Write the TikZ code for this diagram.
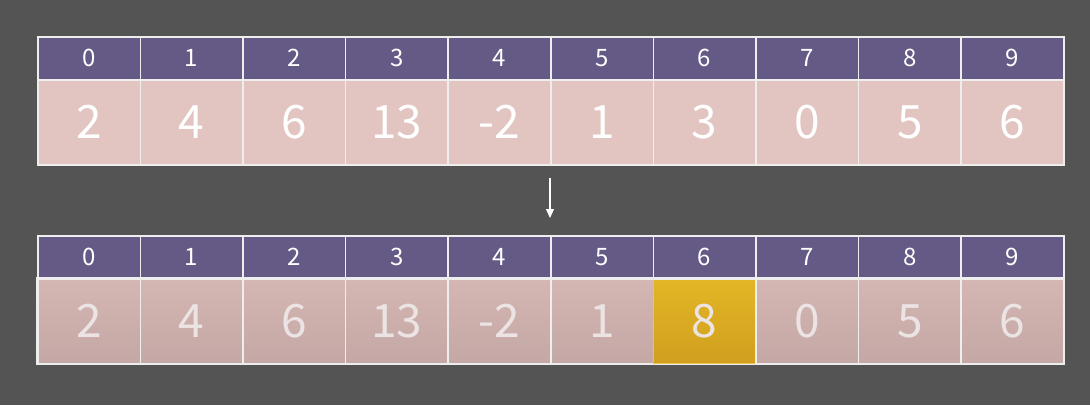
\documentclass[tikz,border=0pt]{standalone}
\usepackage{fontspec}
\setmainfont{Noto Sans CJK SC}
\usetikzlibrary{arrows.meta}
\definecolor{bg}{HTML}{555454}
\definecolor{hdr}{HTML}{655A85}
\definecolor{valtop}{HTML}{E2C4C0}
\definecolor{valb1}{HTML}{D4B6B2}
\definecolor{valb2}{HTML}{C4A8A5}
\definecolor{hl1}{HTML}{E3B626}
\definecolor{hl2}{HTML}{D09F1E}
\definecolor{grid}{HTML}{EEEEEE}
\definecolor{dimtxt}{HTML}{ECE4E4}
\tikzset{
  hdrcell/.style={draw=grid, line width=1.5pt, fill=hdr, minimum width=102.6pt, minimum height=43pt, inner sep=0pt, text=white, font=\fontsize{24}{24}\selectfont, anchor=north west},
  valcell/.style={draw=grid, line width=1.5pt, fill=valtop, minimum width=102.6pt, minimum height=85pt, inner sep=0pt, text=white, font=\fontsize{46}{46}\selectfont, anchor=north west},
  valcellb/.style={valcell, fill=none, top color=valb1, bottom color=valb2, text=dimtxt, draw=grid},
  hlcell/.style={valcell, fill=none, top color=hl1, bottom color=hl2, text=dimtxt, draw=hl1!80!white},
}
\begin{document}
\begin{tikzpicture}[x=1pt,y=-1pt]
\fill[bg] (0,0) rectangle (1090,405);
\useasboundingbox (0,0) rectangle (1090,405);
\def\vals{2,4,6,13,-2,1,3,0,5,6}
\def\valsb{2,4,6,13,-2,1,8,0,5,6}
\foreach \v [count=\i from 0] in \vals {
  \node[hdrcell] (th\i) at (37+102.6*\i,36) {\i};
  \node[valcell] (tv\i) at (37+102.6*\i,79) {\v};
}
\foreach \v [count=\i from 0] in \valsb {
  \ifnum\i=6
    \node[hlcell] (bv\i) at (37+102.6*\i,278) {\v};
  \else
    \node[valcellb] (bv\i) at (37+102.6*\i,278) {\v};
  \fi
  \node[hdrcell] (bh\i) at (37+102.6*\i,235) {\i};
}
\draw[grid, line width=1.5pt] (bv0.north west) rectangle (bv9.south east);
\coordinate (as) at (550,178);
\coordinate (ae) at (550,218);
\draw[white, line width=1.2pt, -{Triangle[width=8pt,length=9pt]}] (as) -- (ae);
\end{tikzpicture}
\end{document}
